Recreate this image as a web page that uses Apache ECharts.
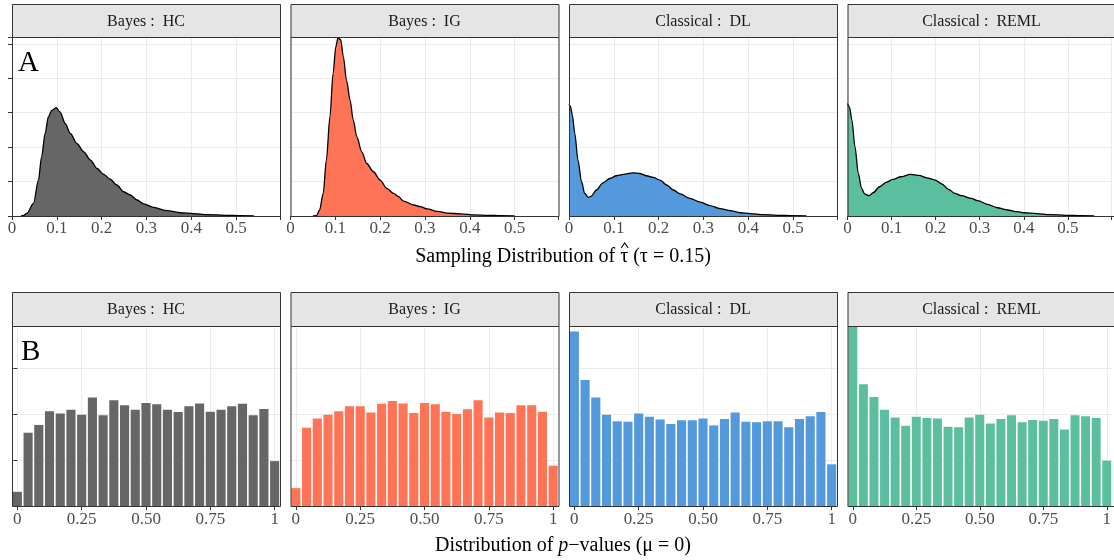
<!DOCTYPE html>
<html><head><meta charset="utf-8">
<script src="https://cdn.jsdelivr.net/npm/echarts@6/dist/echarts.min.js"></script>
<style>html,body{margin:0;padding:0;background:#fff}#c{width:1114px;height:560px}</style>
</head><body><div id="c"></div><script>
// ---------- DATA ----------
const methods = ["Bayes :  HC", "Bayes :  IG", "Classical :  DL", "Classical :  REML"];
const fills = ["#666666", "#FF7456", "#5599DD", "#5BBF9F"];

// Panel A: density of tau-hat  [tau-hat, density]
const densHC = [[0.02,0],[0.025,0.03],[0.033,0.15],[0.048,0.73],[0.059,2.09],[0.066,3.44],[0.074,4.8],[0.081,5.76],[0.089,6.14],[0.0985,6.3],[0.107,6.05],[0.119,5.37],[0.130,4.8],[0.145,4.21],[0.160,3.73],[0.175,3.25],[0.190,2.76],[0.204,2.43],[0.219,2.14],[0.234,1.80],[0.249,1.41],[0.264,1.22],[0.279,0.93],[0.294,0.70],[0.316,0.50],[0.346,0.31],[0.376,0.19],[0.406,0.14],[0.436,0.08],[0.48,0.04],[0.51,0.02],[0.54,0.01]];
const densIG = [[0.05,0],[0.058,0.02],[0.065,0.35],[0.073,1.31],[0.080,3.25],[0.088,5.76],[0.095,8.27],[0.101,9.82],[0.106,10.36],[0.112,10.24],[0.118,9.24],[0.125,7.88],[0.133,6.72],[0.140,5.57],[0.148,4.6],[0.159,3.73],[0.170,3.05],[0.185,2.57],[0.200,2.09],[0.215,1.60],[0.230,1.31],[0.241,1.12],[0.252,0.87],[0.275,0.64],[0.290,0.54],[0.305,0.41],[0.327,0.27],[0.350,0.17],[0.380,0.12],[0.41,0.06],[0.44,0.04],[0.47,0.02],[0.5,0.01]];
const densDL = [[0,6.49],[0.003,6.38],[0.0075,5.86],[0.013,4.79],[0.020,3.25],[0.028,1.99],[0.035,1.31],[0.043,1.08],[0.050,1.16],[0.061,1.51],[0.076,1.93],[0.091,2.18],[0.106,2.34],[0.125,2.43],[0.143,2.51],[0.158,2.47],[0.173,2.34],[0.188,2.24],[0.203,2.09],[0.218,1.80],[0.233,1.51],[0.248,1.28],[0.27,1.02],[0.293,0.81],[0.315,0.60],[0.337,0.43],[0.360,0.31],[0.382,0.19],[0.404,0.14],[0.434,0.08],[0.464,0.04],[0.50,0.02],[0.53,0.01]];
const densREML = [[0,6.53],[0.0045,6.34],[0.010,5.57],[0.017,4.02],[0.0245,2.47],[0.032,1.60],[0.039,1.28],[0.049,1.18],[0.058,1.35],[0.073,1.70],[0.088,1.95],[0.103,2.13],[0.121,2.28],[0.143,2.42],[0.162,2.36],[0.180,2.22],[0.199,2.09],[0.214,1.86],[0.229,1.55],[0.244,1.31],[0.259,1.18],[0.281,1.02],[0.296,0.89],[0.318,0.68],[0.340,0.48],[0.363,0.35],[0.385,0.25],[0.40,0.19],[0.43,0.14],[0.459,0.08],[0.496,0.04],[0.533,0.02],[0.56,0.01]];
const densities = [densHC, densIG, densDL, densREML];
const densTicksX = [0, 0.1, 0.2, 0.3, 0.4, 0.5];

// Panel B: histogram of p-values (25 bins, centers)
const binCenters = [0,0.0417,0.0833,0.125,0.1667,0.2083,0.25,0.2917,0.3333,0.375,0.4167,0.4583,0.5,0.5417,0.5833,0.625,0.6667,0.7083,0.75,0.7917,0.8333,0.875,0.9167,0.9583,1];
const histHC   = [31,160,177,207,202,210,199,237,198,231,220,210,225,222,210,205,218,224,206,210,218,223,198,212,98];
const histIG   = [39,171,191,199,207,218,218,204,223,229,224,203,225,222,206,201,211,231,193,204,203,220,220,206,88];
const histDL   = [381,275,237,199,185,184,202,195,189,179,187,187,191,176,190,204,184,183,185,185,172,190,196,205,91];
const histREML = [393,266,238,210,193,175,195,192,191,173,172,193,199,180,190,198,183,188,186,190,167,198,196,192,99];
const hists = [histHC, histIG, histDL, histREML];
const pTicks = [0, 0.25, 0.5, 0.75, 1];
const pTickLabels = ["0", "0.25", "0.50", "0.75", "1"];

// ---------- LAYOUT ----------
const lefts = [12, 290.5, 569, 847.5];
const panelW = 268;
const rowTop = [37, 326];
const rowH = [179, 180];
const stripTop = [4, 292];
const binW = 1/24;
const serif = '"Liberation Serif", "DejaVu Serif", serif';

const grids = [], xAxes = [], yAxes = [], series = [], graphics = [];
for (let r = 0; r < 2; r++) {
  for (let c = 0; c < 4; c++) {
    const gi = r*4 + c;
    grids.push({left: lefts[c], top: rowTop[r], width: panelW, height: rowH[r], containLabel: false});
    const labelStyle = {color:'#4d4d4d', fontFamily: serif, fontSize: 17, margin: 4};
    if (r === 0) {
      xAxes.push({type:'value', gridIndex: gi, min: 0, max: 0.598, interval: 0.1,
        axisLine:{show:false}, axisTick:{show:true, length:4, lineStyle:{color:'#333'}},
        axisLabel: Object.assign({}, labelStyle, {formatter: v => densTicksX.indexOf(Math.round(v*10)/10) >= 0 ? String(Math.round(v*10)/10) : ''}),
        splitLine:{show:true, lineStyle:{color:'#ebebeb', width:1}}});
      yAxes.push({type:'value', gridIndex: gi, min: 0, max: 10.4, interval: 2,
        axisLine:{show:false}, axisTick:{show: c === 0, length:4, lineStyle:{color:'#333'}},
        axisLabel:{show:false}, splitLine:{show:true, lineStyle:{color:'#ebebeb', width:1}}});
      series.push({type:'line', xAxisIndex: gi, yAxisIndex: gi, data: densities[c],
        symbol:'none', smooth: 0.3, smoothMonotone:'x',
        lineStyle:{color:'#000', width:1.3}, areaStyle:{color: fills[c], opacity:1}, z: 3, silent:true});
    } else {
      xAxes.push({type:'value', gridIndex: gi, min: -binW/2, max: 1 + binW/2,
        axisLine:{show:false},
        axisTick:{show:true, length:4, lineStyle:{color:'#333'}, customValues: pTicks},
        axisLabel: Object.assign({}, labelStyle, {margin: 5, customValues: pTicks,
          formatter: v => pTickLabels[pTicks.indexOf(Math.round(v*100)/100)] || ''}),
        splitLine:{show:true, lineStyle:{color:'#ebebeb', width:1}}});
      yAxes.push({type:'value', gridIndex: gi, min: 0, max: 393, interval: 100,
        axisLine:{show:false}, axisTick:{show: c === 0, length:4, lineStyle:{color:'#333'}},
        axisLabel:{show:false}, splitLine:{show:true, lineStyle:{color:'#ebebeb', width:1}}});
      const fill = fills[c];
      series.push({type:'custom', xAxisIndex: gi, yAxisIndex: gi,
        data: binCenters.map((x, i) => [x, hists[c][i]]),
        renderItem: (params, api) => {
          const x = api.value(0), y = api.value(1);
          const p0 = api.coord([x - binW/2, 0]);
          const p1 = api.coord([x + binW/2, y]);
          return {type:'rect', shape:{x: p0[0] + 0.8, y: p1[1], width: p1[0] - p0[0] - 1.6, height: p0[1] - p1[1]},
            style:{fill: fill}};
        }, z: 3, silent:true});
    }
    // strip
    graphics.push({type:'rect', z: 50, shape:{x: lefts[c] + 0.5, y: stripTop[r] + 0.5, width: panelW, height: rowTop[r] - stripTop[r]},
      style:{fill:'#e5e5e5', stroke:'#333', lineWidth:1}});
    graphics.push({type:'text', z: 51, x: lefts[c] + panelW/2, y: (stripTop[r] + rowTop[r])/2 + 1,
      style:{text: methods[c], fill:'#1a1a1a', font: '16px ' + serif, align:'center', verticalAlign:'middle'}});
    // panel border
    graphics.push({type:'rect', z: 50, shape:{x: lefts[c] + 0.5, y: rowTop[r] + 0.5, width: panelW, height: rowH[r]},
      style:{fill: null, stroke:'#333', lineWidth:1}});
  }
}
graphics.push({type:'text', z: 60, x: 18, y: 63, style:{text:'A', fill:'#000', font:'29px ' + serif, verticalAlign:'middle'}});
graphics.push({type:'text', z: 60, x: 21, y: 352, style:{text:'B', fill:'#000', font:'29px ' + serif, verticalAlign:'middle'}});

// axis titles
const titleFont = '20px ' + serif;
const titleA = 'Sampling Distribution of \u03C4 (\u03C4 = 0.15)';
const titleCx = 563, titleAy = 257;
const mctx = document.createElement('canvas').getContext('2d');
mctx.font = titleFont;
const wFull = mctx.measureText(titleA).width;
const wPre = mctx.measureText('Sampling Distribution of ').width;
const wTau = mctx.measureText('\u03C4').width;
const tauCx = titleCx - wFull/2 + wPre + wTau/2 + 0.5;
graphics.push({type:'text', z: 60, x: titleCx, y: titleAy, style:{text: titleA, fill:'#000', font: titleFont, align:'center', verticalAlign:'middle'}});
graphics.push({type:'polyline', z: 60, shape:{points:[[tauCx - 3.5, titleAy - 9], [tauCx, titleAy - 14], [tauCx + 3.5, titleAy - 9]]},
  style:{stroke:'#000', lineWidth:1.1, fill:null}});
graphics.push({type:'text', z: 60, x: titleCx, y: 546, style:{text:'Distribution of {i|p}\u2212values (\u03BC = 0)', fill:'#000', font: titleFont, align:'center', verticalAlign:'middle',
  rich:{i:{fontStyle:'italic', fontFamily: serif, fontSize:20, fill:'#000'}}}});

const chart = echarts.init(document.getElementById('c'), null, {renderer:'canvas'});
chart.setOption({animation:false, backgroundColor:'#fff', grid: grids, xAxis: xAxes, yAxis: yAxes, series: series, graphic: graphics});
</script></body></html>
